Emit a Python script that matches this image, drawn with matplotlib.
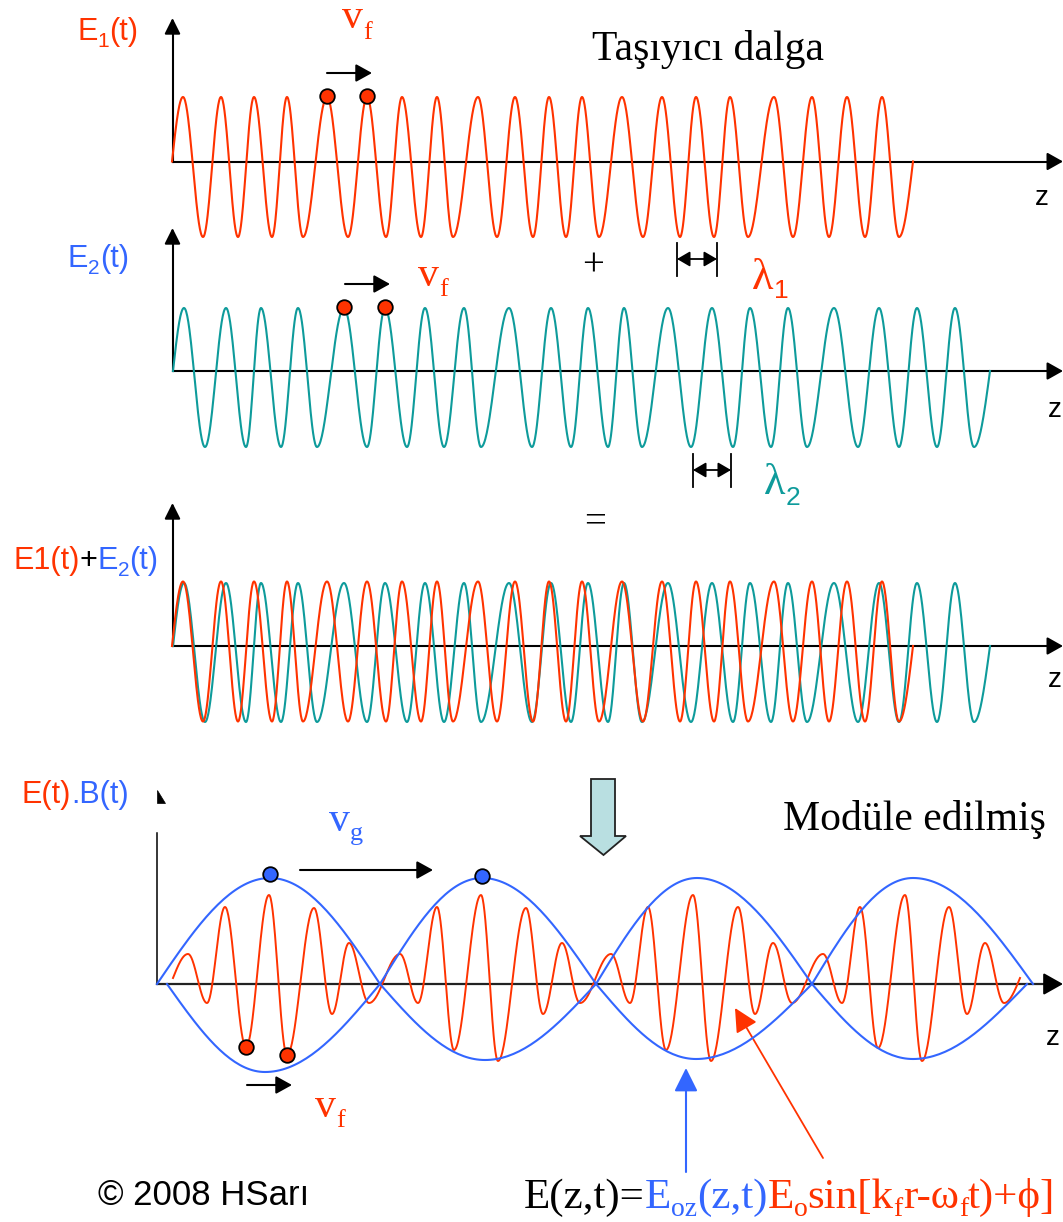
import numpy as np
import matplotlib
matplotlib.use("Agg")
import matplotlib.pyplot as plt
from matplotlib.patches import Polygon

RED = '#ff3300'
TEAL = '#0e9b9b'
BLUE = '#3366ff'
FILL = '#b9dfe1'
SANS = ['Liberation Sans', 'DejaVu Sans']
SERIF = ['Liberation Serif', 'DejaVu Serif']

# ---------------- data (positions along z, amplitudes) ----------------
# carrier wave E1 (panel 1 and 3)
E1_PEAK_Z = [183, 221, 254, 287, 327, 367, 402, 437, 478, 515, 549, 582, 622, 662, 696, 730, 774, 812, 847, 882]
E1_TROUGH_Z = [203, 238, 272, 303, 348, 386, 421, 453, 497, 533, 566, 599, 643, 680, 714, 748, 793, 829, 865, 899]
E1_RANGE = [172, 913]
E1_AMP = [64.5, 75.5]          # up, down

# wave E2 (panel 2 and 3)
E2_PEAK_Z = [184, 226, 261, 298, 344, 385, 425, 464, 509, 551, 588, 624, 668, 712, 750, 788, 834, 879, 917, 955]
E2_TROUGH_Z = [205, 246, 281, 317, 367, 407, 444, 481, 532, 571, 608, 642, 691, 733, 771, 807, 858, 899, 937, 974]
E2_RANGE = [173, 990]
E2_AMP = [63, 76]

# modulated wave (panel 4): extrema positions and signed values
MOD_Z = [173, 188, 207, 225, 246, 269, 287, 314, 332, 349, 369, 400, 418, 437, 454, 481, 498, 526, 543, 562,
         580, 611, 630, 648, 666, 693, 711, 738, 755, 773, 792, 823, 842, 860, 878, 905, 922, 949, 967, 985,
         1004, 1020]
MOD_E = [6, 30, -19, 77, -63, 89, -71, 76, -30, 41, -19, 30, -19, 77, -66, 89, -77, 76, -30, 41,
         -19, 30, -19, 77, -66, 89, -77, 77, -30, 41, -19, 30, -19, 77, -64, 89, -77, 77, -30, 41,
         -19, 6]

# envelope (panel 4)
ENV_UP_NODES = [157, 380, 596, 812, 1033]
ENV_UP_PEAK_Z = [270, 482, 697, 913]
ENV_UP_AMP = [106, 106, 106, 106]
ENV_LO_NODES = [167, 380, 596, 812, 1027]
ENV_LO_PEAK_Z = [265, 485, 696, 913]
ENV_LO_AMP = [88, 76, 75, 75]

# ---------------- figure ----------------
W, H = 1063, 1222
fig = plt.figure(figsize=(W / 100, H / 100), dpi=100)
ax = fig.add_axes([0, 0, 1, 1])
ax.set_xlim(0, W)
ax.set_ylim(H, 0)
ax.axis('off')
renderer = fig.canvas.get_renderer()

BASE = [161.5, 371, 646, 984]
AX_X = [172.5, 172.5, 172.5, 157]


def smooth_path(zs, vals, kinds, n=40):
    X, Y = [], []
    for i in range(len(zs) - 1):
        t = np.linspace(0, 1, n)
        k0, k1 = kinds[i], kinds[i + 1]
        if k0 == 'e' and k1 == 'e':
            s = (1 - np.cos(np.pi * t)) / 2
        elif k0 == 'n' and k1 == 'e':
            s = np.sin(np.pi * t / 2)
        elif k0 == 'e' and k1 == 'n':
            s = 1 - np.cos(np.pi * t / 2)
        else:
            s = t
        X.append(zs[i] + (zs[i + 1] - zs[i]) * t)
        Y.append(vals[i] + (vals[i + 1] - vals[i]) * s)
    return np.concatenate(X), np.concatenate(Y)


def carrier(peaks, troughs, rng, amp):
    pts = [(rng[0], 0.0, 'n')] + [(z, amp[0], 'e') for z in peaks] + \
          [(z, -amp[1], 'e') for z in troughs] + [(rng[1], 0.0, 'n')]
    pts.sort(key=lambda p: p[0])
    return smooth_path([p[0] for p in pts], [p[1] for p in pts], [p[2] for p in pts])


def envelope(nodes, peaks, amps, sign):
    pts = [(z, 0.0, 'n') for z in nodes] + [(z, sign * a, 'e') for z, a in zip(peaks, amps)]
    pts.sort(key=lambda p: p[0])
    return smooth_path([p[0] for p in pts], [p[1] for p in pts], [p[2] for p in pts])


def arrow(x0, y0, x1, y1, color='k', lw=1.5, hl=0.65, hw=0.36, ms=15, style='-|>'):
    ax.annotate('', xy=(x1, y1), xytext=(x0, y0),
                arrowprops=dict(arrowstyle=f'{style},head_length={hl},head_width={hw}',
                                color=color, lw=lw, shrinkA=0, shrinkB=0, mutation_scale=ms))


def runs(x, y, parts):
    for s, color, size, dy, fam in parts:
        t = ax.text(x, y + dy, s, color=color, fontsize=size, family=fam, va='baseline', ha='left')
        x += t.get_window_extent(renderer).width


def dot(x, y, color):
    ax.plot([x], [y], 'o', ms=10.5, mfc=color, mec='k', mew=1.3, zorder=6)


# axes of panels
AX_TOP = [18, 228, 503]
for i in range(3):
    b, x0 = BASE[i], AX_X[i]
    ax.plot([x0, W - 8], [b, b], color='k', lw=1.5)
    arrow(W - 12, b, W, b, hl=0.8, hw=0.45, ms=12)
    ax.plot([x0, x0], [b, AX_TOP[i] + 8], color='k', lw=1.5)
    arrow(x0, AX_TOP[i] + 12, x0, AX_TOP[i], hl=0.8, hw=0.4, ms=12)

# panel 4 axes
b4 = BASE[3]
ax.plot([AX_X[3], W - 10], [b4, b4], color='#222222', lw=1.6)
arrow(W - 14, b4, W, b4, hl=0.8, hw=0.45, ms=15)
ax.plot([AX_X[3], AX_X[3]], [b4, 833], color='k', lw=1.1)
ax.add_patch(Polygon([[AX_X[3], 790], [AX_X[3], 803], [AX_X[3] + 8, 803]], closed=True, fc='k', ec='k', lw=0.5))

# ---- panel 1: E1 ----
x, y = carrier(E1_PEAK_Z, E1_TROUGH_Z, E1_RANGE, E1_AMP)
ax.plot(x, BASE[0] - y, color=RED, lw=1.5)
dot(E1_PEAK_Z[4], BASE[0] - E1_AMP[0] - 1, RED)
dot(E1_PEAK_Z[5], BASE[0] - E1_AMP[0] - 1, RED)
arrow(327, 73, 372, 73)

# ---- panel 2: E2 ----
x, y = carrier(E2_PEAK_Z, E2_TROUGH_Z, E2_RANGE, E2_AMP)
ax.plot(x, BASE[1] - y, color=TEAL, lw=1.5)
dot(E2_PEAK_Z[4], BASE[1] - E2_AMP[0] - 1, RED)
dot(E2_PEAK_Z[5], BASE[1] - E2_AMP[0] - 1, RED)
arrow(345, 284, 390, 284)

# lambda brackets
for (xa, xb, ya, yb, yc) in [(677, 717, 243, 276, 259), (693, 731, 454, 487, 470)]:
    ax.plot([xa, xa], [ya, yb], color='k', lw=1.3)
    ax.plot([xb, xb], [ya, yb], color='k', lw=1.3)
    arrow(xa, yc, xb, yc, style='<|-|>', hl=0.6, hw=0.35, ms=13, lw=1.3)

# ---- panel 3: sum ----
x, y = carrier(E2_PEAK_Z, E2_TROUGH_Z, E2_RANGE, E2_AMP)
ax.plot(x, BASE[2] - y, color=TEAL, lw=1.5)
x, y = carrier(E1_PEAK_Z, E1_TROUGH_Z, E1_RANGE, E1_AMP)
ax.plot(x, BASE[2] - y, color=RED, lw=1.5)

# ---- panel 4: modulated ----
kinds = ['n'] + ['e'] * (len(MOD_Z) - 2) + ['n']
x, y = smooth_path(MOD_Z, MOD_E, kinds)
ax.plot(x, b4 - y, color=RED, lw=1.4, zorder=3)
x, y = envelope(ENV_UP_NODES, ENV_UP_PEAK_Z, ENV_UP_AMP, 1)
ax.plot(x, b4 - y, color=BLUE, lw=1.5, zorder=4)
x, y = envelope(ENV_LO_NODES, ENV_LO_PEAK_Z, ENV_LO_AMP, -1)
ax.plot(x, b4 - y, color=BLUE, lw=1.5, zorder=4)
dot(ENV_UP_PEAK_Z[0], b4 - ENV_UP_AMP[0] - 4, BLUE)
dot(ENV_UP_PEAK_Z[1], b4 - ENV_UP_AMP[1] - 2, BLUE)
dot(MOD_Z[4], b4 - MOD_E[4], RED)
dot(MOD_Z[6], b4 - MOD_E[6], RED)
arrow(300, 870, 433, 870)
arrow(247, 1085, 292, 1085)

# block arrow
ax.add_patch(Polygon([[591, 779], [615, 779], [615, 836], [626, 836], [603.5, 855],
                      [580, 836], [591, 836]], closed=True, fc=FILL, ec='#222222', lw=1.3))

# formula pointers
arrow(686, 1172, 686, 1068, color=BLUE, lw=1.5, hl=0.9, hw=0.45, ms=16)
arrow(823, 1158, 735, 1008, color=RED, lw=1.3, hl=0.9, hw=0.45, ms=16)

# ---------------- texts ----------------
runs(77, 40, [('E', RED, 22, 0, SANS), ('1', RED, 15, 7, SANS), ('(t)', RED, 22, 0, SANS)])
runs(342, 28, [('v', RED, 30, 0, SERIF), ('f', RED, 19, 11, SERIF)])
ax.text(592, 60, 'Taşıyıcı dalga', fontsize=30, family=SERIF, color='k', va='baseline')
ax.text(1035, 205, 'z', fontsize=20, family=SANS, color='k', va='baseline')

runs(68, 267, [('E', BLUE, 22, 0, SANS), ('2', BLUE, 15, 7, SANS), ('(t)', BLUE, 22, 0, SANS)])
runs(418, 286, [('v', RED, 30, 0, SERIF), ('f', RED, 19, 10, SERIF)])
ax.text(593, 275, '+', fontsize=28, family=SERIF, color='k', va='baseline', ha='center')
runs(752, 289, [('λ', RED, 32, 0, SERIF), ('1', RED, 19, 9, SANS)])
runs(764, 494, [('λ', TEAL, 32, 0, SERIF), ('2', TEAL, 19, 11, SANS)])
ax.text(1048, 417, 'z', fontsize=20, family=SANS, color='k', va='baseline')

ax.text(595, 532, '=', fontsize=28, family=SERIF, color='k', va='baseline', ha='center')
runs(13, 569, [('E1(t)', RED, 22, 0, SANS), ('+', 'k', 22, 0, SANS), ('E', BLUE, 22, 0, SANS),
               ('2', BLUE, 15, 7, SANS), ('(t)', BLUE, 22, 0, SANS)])
ax.text(1048, 687, 'z', fontsize=20, family=SANS, color='k', va='baseline')

runs(22, 803, [('E(t)', RED, 22, 0, SANS), ('.B(t)', BLUE, 22, 0, SANS)])
runs(329, 831, [('v', BLUE, 30, 0, SERIF), ('g', BLUE, 19, 9, SERIF)])
ax.text(783, 830, 'Modüle edilmiş', fontsize=30, family=SERIF, color='k', va='baseline')
ax.text(1046, 1045, 'z', fontsize=20, family=SANS, color='k', va='baseline')
runs(315, 1117, [('v', RED, 30, 0, SERIF), ('f', RED, 19, 10, SERIF)])

runs(524, 1208, [('E(z,t)=', 'k', 31, 0, SERIF), ('E', BLUE, 31, 0, SERIF), ('oz', BLUE, 20, 8, SERIF),
                 ('(z,t)', BLUE, 31, 0, SERIF), ('E', RED, 31, 0, SERIF), ('o', RED, 20, 8, SERIF),
                 ('sin[k', RED, 31, 0, SERIF), ('f', RED, 20, 8, SERIF), ('r-ω', RED, 31, 0, SERIF),
                 ('f', RED, 20, 8, SERIF), ('t)+ϕ]', RED, 31, 0, SERIF)])
ax.text(98, 1205, '© 2008 HSarı', fontsize=25, family=SANS, color='k', va='baseline')

fig.savefig('out.png', dpi=100)
